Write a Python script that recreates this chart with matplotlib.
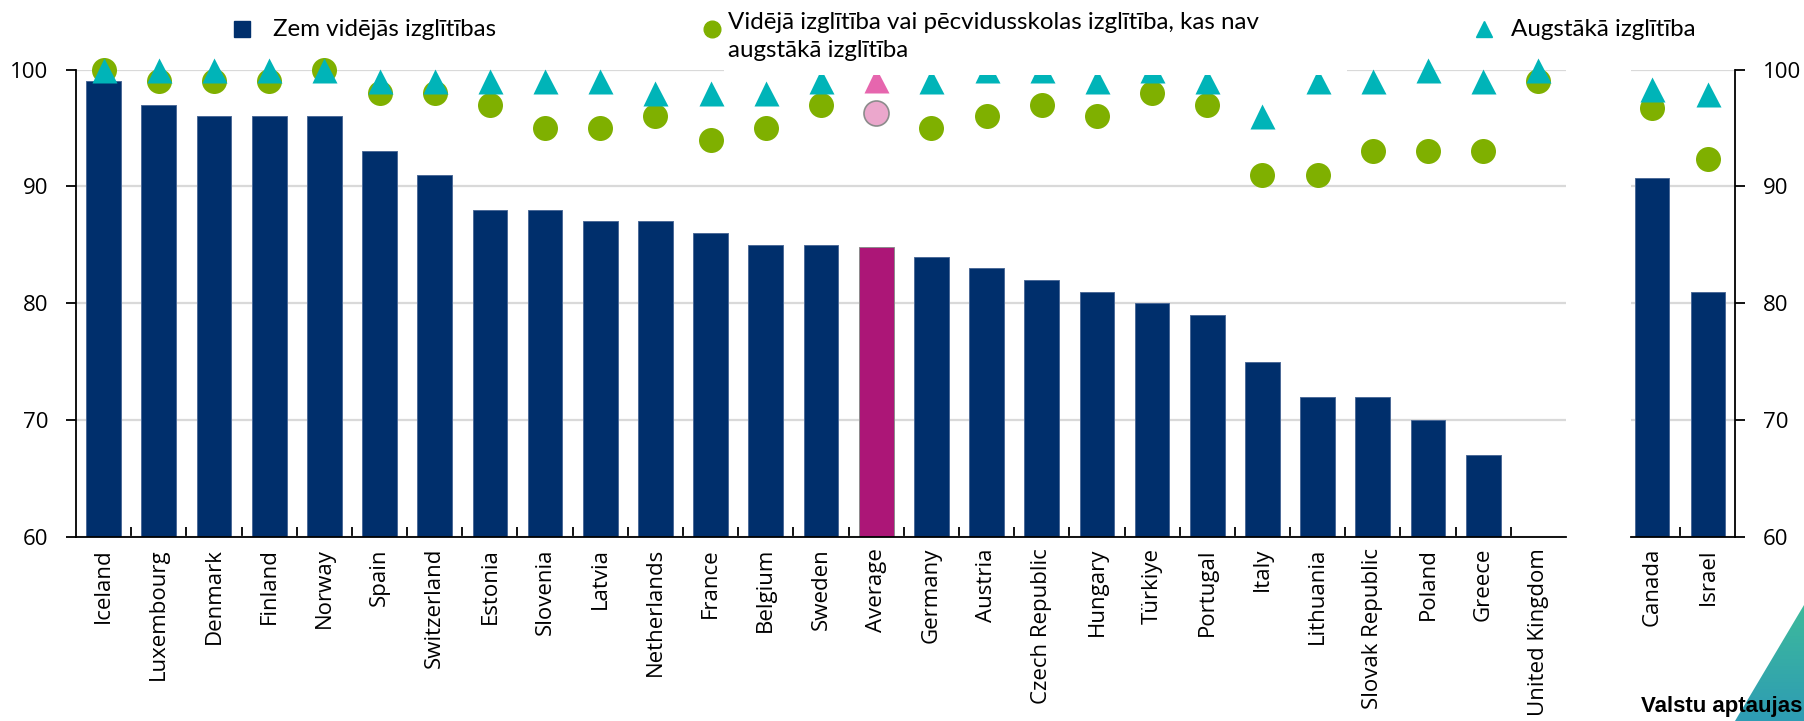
import numpy as np
import matplotlib.pyplot as plt
from matplotlib.lines import Line2D
from matplotlib.patches import Rectangle, Polygon
from matplotlib.colors import LinearSegmentedColormap

plt.rcParams['font.family'] = ['Open Sans', 'DejaVu Sans']

# main panel
countries = ["Iceland", "Luxembourg", "Denmark", "Finland", "Norway", "Spain",
             "Switzerland", "Estonia", "Slovenia", "Latvia", "Netherlands",
             "France", "Belgium", "Sweden", "Average", "Germany", "Austria",
             "Czech Republic", "Hungary", "Türkiye", "Portugal", "Italy",
             "Lithuania", "Slovak Republic", "Poland", "Greece", "United Kingdom"]
below_upper = [99, 97, 96, 96, 96, 93, 91, 88, 88, 87, 87, 86, 85, 85, 84.8,
               84, 83, 82, 81, 80, 79, 75, 72, 72, 70, 67, np.nan]
upper_sec = [100, 99, 99, 99, 100, 98, 98, 97, 95, 95, 96, 94, 95, 97, 96.3,
             95, 96, 97, 96, 98, 97, 91, 91, 93, 93, 93, 99]
tertiary = [100, 100, 100, 100, 100, 99, 99, 99, 99, 99, 98, 98, 98, 99, 99.1,
            99, 100, 100, 99, 100, 99, 96, 99, 99, 100, 99, 100]

# separate panel
other_countries = ["Canada", "Israel"]
other_below = [90.7, 81.0]
other_upper = [96.7, 92.3]
other_tert = [98.3, 97.9]

legend_labels = ["Zem vidējās izglītības",
                 "Vidējā izglītība vai pēcvidusskolas izglītība, kas nav\naugstākā izglītība",
                 "Augstākā izglītība"]

NAVY = '#002F6C'
MAGENTA = '#AC1677'
GREEN = '#7FB000'
TEAL = '#00B4B8'
PINK_TRI = '#E666AE'
PINK_CIRC = '#EBA7CC'
GRID = '#D9D9D9'

W, H = 1804, 721


def fx(px):
    return px / W


def fy(py):
    return 1 - py / H


def style_axis(a, side):
    a.set_ylim(60, 100)
    a.set_yticks([60, 70, 80, 90, 100])
    a.yaxis.grid(True, color=GRID, lw=1.6)
    a.set_axisbelow(True)
    for s in a.spines.values():
        s.set_visible(False)
    a.spines['bottom'].set_visible(True)
    a.spines[side].set_visible(True)
    for s in ('bottom', side):
        a.spines[s].set_linewidth(1.3)
    a.tick_params(axis='y', direction='out', length=7, width=1.3, pad=13,
                  labelsize=16, colors='black')
    a.tick_params(axis='x', which='major', length=0, pad=8, labelsize=16)
    a.tick_params(axis='x', which='minor', direction='in', length=7, width=1.3)


fig = plt.figure(figsize=(W / 100, H / 100), dpi=100)
bottom = fy(537)
height = fy(69.5) - fy(537)
ax = fig.add_axes([fx(76), bottom, fx(1566) - fx(76), height])
ax2 = fig.add_axes([fx(1631), bottom, fx(1735) - fx(1631), height])

x = np.arange(len(countries))
is_avg = np.array([c == "Average" for c in countries])
bar_cols = [MAGENTA if a else NAVY for a in is_avg]
edge_cols = ['#8C8C8C' if a else '#4C6A98' for a in is_avg]
ax.bar(x, below_upper, width=0.63, color=bar_cols, edgecolor=edge_cols, lw=0.7)

up = np.array(upper_sec, dtype=float)
te = np.array(tertiary, dtype=float)
ax.plot(x[~is_avg], up[~is_avg], 'o', ms=18, color=GREEN, mec='none',
        clip_on=False, zorder=3)
ax.plot(x[is_avg], up[is_avg], 'o', ms=18, color=PINK_CIRC, mec='#8C8C8C',
        mew=1.2, clip_on=False, zorder=3)
ax.plot(x[~is_avg], te[~is_avg], '^', ms=18, color=TEAL, mec='none',
        clip_on=False, zorder=4)
ax.plot(x[is_avg], te[is_avg], '^', ms=18, color=PINK_TRI, mec='none',
        clip_on=False, zorder=4)

ax.set_xlim(-0.5, len(countries) - 0.5)
ax.set_xticks(x)
ax.set_xticklabels(countries, rotation=90)
ax.set_xticks(np.arange(len(countries) - 1) + 0.5, minor=True)
style_axis(ax, 'left')

x2 = np.arange(len(other_countries))
ax2.bar(x2, other_below, width=0.61, color=NAVY, edgecolor='#4C6A98', lw=0.7)
ax2.plot(x2, other_upper, 'o', ms=18, color=GREEN, mec='none', clip_on=False, zorder=3)
ax2.plot(x2, other_tert, '^', ms=18, color=TEAL, mec='none', clip_on=False, zorder=4)
ax2.set_xlim(-0.38, 1.48)
ax2.set_xticks(x2)
ax2.set_xticklabels(other_countries, rotation=90)
ax2.set_xticks([0.5], minor=True)
style_axis(ax2, 'right')
ax2.yaxis.tick_right()

# white box behind the middle legend entry (hides marker tops like the original)
fig.add_artist(Rectangle((fx(724), fy(75)), fx(1347) - fx(724), 1 - fy(75),
                         transform=fig.transFigure, facecolor='white',
                         edgecolor='none', zorder=1))

# legend
leg_font = dict(family=['Lato', 'DejaVu Sans'], size=17.4, color='black', zorder=3)
fig.add_artist(Line2D([fx(242)], [fy(29)], marker='s', ms=11, color=NAVY, ls='none',
                      transform=fig.transFigure, zorder=3))
fig.text(fx(273), fy(29), legend_labels[0], va='center', ha='left', **leg_font)
fig.add_artist(Line2D([fx(712)], [fy(29)], marker='o', ms=12, color=GREEN, ls='none',
                      transform=fig.transFigure, zorder=3))
fig.text(fx(728), fy(36.5), legend_labels[1], va='center', ha='left',
         linespacing=1.45, **leg_font)
fig.add_artist(Line2D([fx(1484)], [fy(29)], marker='^', ms=12, color=TEAL, ls='none',
                      transform=fig.transFigure, zorder=3))
fig.text(fx(1511), fy(29), legend_labels[2], va='center', ha='left', **leg_font)

# corner badge
cax = fig.add_axes([fx(1735), fy(721), fx(1804) - fx(1735), fy(605) - fy(721)])
cax.axis('off')
cmap = LinearSegmentedColormap.from_list('corner', ['#2E9CB4', '#3DBA9B'])
im = cax.imshow(np.linspace(0, 1, 100).reshape(-1, 1), extent=[0, 1, 0, 1],
                origin='lower', cmap=cmap, aspect='auto')
cax.set_xlim(0, 1)
cax.set_ylim(0, 1)
tri = Polygon([(1, 1), (0, 0), (1, 0)], transform=cax.transData)
im.set_clip_path(tri)
fig.text(fx(1802), fy(712), "Valstu aptaujas", ha='right', va='baseline',
         weight='bold', size=16, family=['Liberation Sans Narrow', 'Liberation Sans'],
         zorder=5)

fig.savefig('out.png', dpi=100)
